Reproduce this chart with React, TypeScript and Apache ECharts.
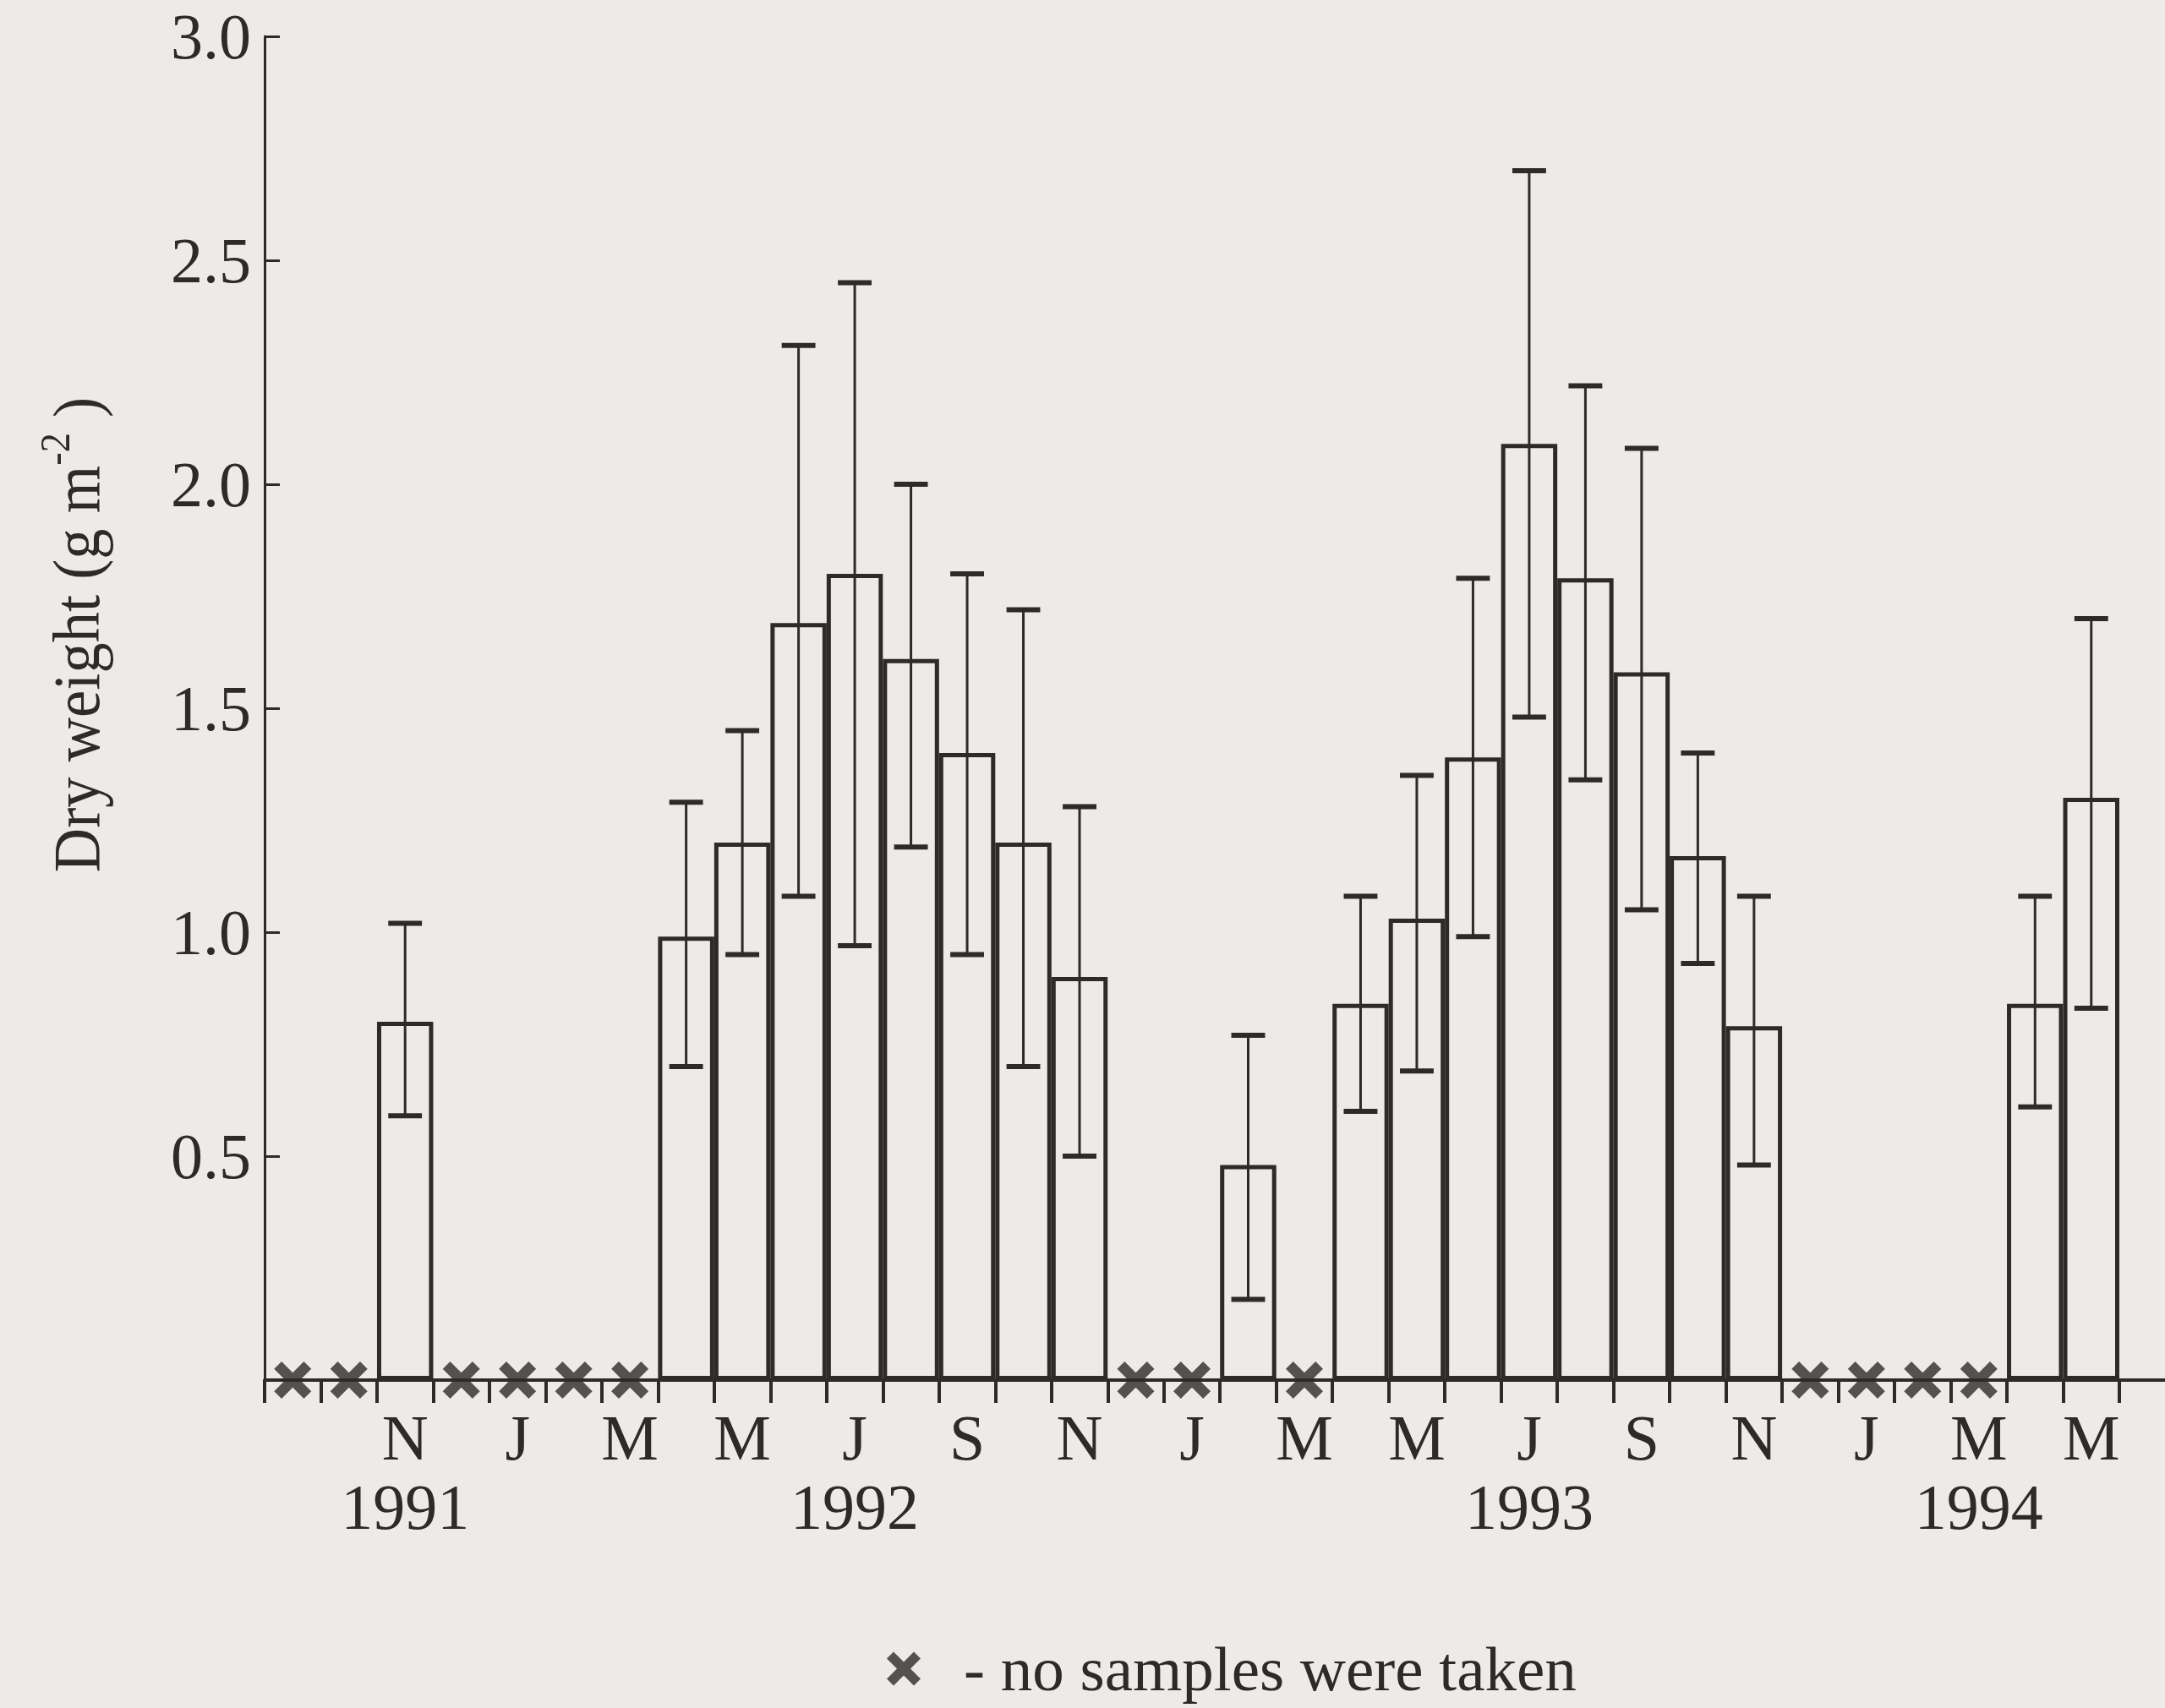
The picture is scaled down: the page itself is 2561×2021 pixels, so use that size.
import React, { useEffect, useRef } from 'react';
import * as echarts from 'echarts';

// Months from Sep 1991 to May 1994
const categories = [
  'Sep 1991', 'Oct 1991', 'Nov 1991', 'Dec 1991',
  'Jan 1992', 'Feb 1992', 'Mar 1992', 'Apr 1992', 'May 1992', 'Jun 1992',
  'Jul 1992', 'Aug 1992', 'Sep 1992', 'Oct 1992', 'Nov 1992', 'Dec 1992',
  'Jan 1993', 'Feb 1993', 'Mar 1993', 'Apr 1993', 'May 1993', 'Jun 1993',
  'Jul 1993', 'Aug 1993', 'Sep 1993', 'Oct 1993', 'Nov 1993', 'Dec 1993',
  'Jan 1994', 'Feb 1994', 'Mar 1994', 'Apr 1994', 'May 1994',
];

const monthLabels = [
  '', '', 'N', '', 'J', '', 'M', '', 'M', '', 'J', '', 'S', '', 'N', '',
  'J', '', 'M', '', 'M', '', 'J', '', 'S', '', 'N', '', 'J', '', 'M', '', 'M',
];

const yearLabels = [
  '', '', '1991', '', '', '', '', '', '', '', '1992', '', '', '', '', '',
  '', '', '', '', '', '', '1993', '', '', '', '', '', '', '', '1994', '', '',
];

// Mean dry weight (g m-2); null = no samples were taken
const dryWeight: (number | null)[] = [
  null, null, 0.80, null, null, null, null, 0.99, 1.20, 1.69, 1.80, 1.61, 1.40, 1.20, 0.90, null,
  null, 0.48, null, 0.84, 1.03, 1.39, 2.09, 1.79, 1.58, 1.17, 0.79, null, null, null, null, 0.84, 1.30,
];

const errorLow: (number | null)[] = [
  null, null, 0.59, null, null, null, null, 0.70, 0.95, 1.08, 0.97, 1.19, 0.95, 0.70, 0.50, null,
  null, 0.18, null, 0.60, 0.69, 0.99, 1.48, 1.34, 1.05, 0.93, 0.48, null, null, null, null, 0.61, 0.83,
];

const errorHigh: (number | null)[] = [
  null, null, 1.02, null, null, null, null, 1.29, 1.45, 2.31, 2.45, 2.00, 1.80, 1.72, 1.28, null,
  null, 0.77, null, 1.08, 1.35, 1.79, 2.70, 2.22, 2.08, 1.40, 1.08, null, null, null, null, 1.08, 1.70,
];

const Y_MIN = 0;
const Y_MAX = 3;
const Y_STEP = 0.5;

const FONT = "'Liberation Serif', 'Times New Roman', serif";
const INK = '#2e2a29';
const PAPER = '#ecebe7';
const CROSS =
  'path://M4,0 L10,6 L16,0 L20,4 L14,10 L20,16 L16,20 L10,14 L4,20 L0,16 L6,10 L0,4 Z';

const GRID_LEFT = 313;
const GRID_TOP = 43;
const GRID_RIGHT = 54;
const GRID_BOTTOM = 388;
const W = 2561;
const H = 2021;

export default function App() {
  const ref = useRef<HTMLDivElement>(null);

  useEffect(() => {
    const chart = echarts.init(ref.current!, null, { renderer: 'svg' });

    const barData = dryWeight.map((v) => (v === null ? '-' : v));
    const errData = dryWeight
      .map((v, i) => (v === null ? null : [i, errorLow[i], errorHigh[i]]))
      .filter((d) => d !== null);
    const crossData = dryWeight
      .map((v, i) => (v === null ? [i, 0] : null))
      .filter((d) => d !== null);

    chart.setOption({
      animation: false,
      backgroundColor: PAPER,
      grid: {
        left: GRID_LEFT,
        top: GRID_TOP,
        right: GRID_RIGHT,
        bottom: GRID_BOTTOM,
        containLabel: false,
      },
      legend: {
        left: 1044,
        top: 1932,
        itemWidth: 40,
        itemHeight: 40,
        selectedMode: false,
        textStyle: {
          fontFamily: FONT,
          fontSize: 75,
          color: INK,
          padding: [0, 0, 0, 46],
        },
        data: [{ name: '- no samples were taken', icon: CROSS, itemStyle: { color: INK } }],
      },
      xAxis: [
        {
          type: 'category',
          data: categories,
          position: 'bottom',
          boundaryGap: true,
          axisLine: { show: true, lineStyle: { color: INK, width: 4 } },
          axisTick: {
            show: true,
            interval: 0,
            length: 27,
            inside: false,
            lineStyle: { color: INK, width: 4 },
          },
          axisLabel: {
            interval: 0,
            margin: 30,
            fontFamily: FONT,
            fontSize: 76,
            color: INK,
            formatter: (_v: string, idx: number) => monthLabels[idx],
          },
          splitLine: { show: false },
          z: 5,
        },
        {
          type: 'category',
          data: categories,
          position: 'bottom',
          boundaryGap: true,
          axisLine: { show: false },
          axisTick: { show: false },
          axisLabel: {
            interval: 0,
            margin: 112,
            fontFamily: FONT,
            fontSize: 76,
            color: INK,
            formatter: (_v: string, idx: number) => yearLabels[idx],
          },
          splitLine: { show: false },
        },
      ],
      yAxis: {
        type: 'value',
        min: Y_MIN,
        max: Y_MAX,
        interval: Y_STEP,
        axisLine: { show: true, lineStyle: { color: INK, width: 3 } },
        axisTick: { show: true, inside: true, length: 18, lineStyle: { color: INK, width: 3 } },
        axisLabel: {
          margin: 16,
          fontFamily: FONT,
          fontSize: 76,
          color: INK,
          formatter: (v: number) => (v === 0 ? '' : v.toFixed(1)),
        },
        splitLine: { show: false },
      },
      series: [
        {
          type: 'bar',
          name: 'Dry weight',
          data: barData,
          xAxisIndex: 0,
          barCategoryGap: '0%',
          barGap: '0%',
          itemStyle: { color: 'rgba(0,0,0,0)', borderColor: INK, borderWidth: 5 },
          z: 2,
        },
        {
          type: 'custom',
          name: 'error',
          data: errData,
          xAxisIndex: 0,
          encode: { x: 0, y: [1, 2] },
          z: 3,
          renderItem: (params: any, api: any) => {
            const idx = api.value(0);
            const lo = api.coord([idx, api.value(1)]);
            const hi = api.coord([idx, api.value(2)]);
            const half = api.size([1, 0])[0] * 0.3;
            const stroke = { stroke: INK, lineWidth: 3 };
            const cap = { stroke: INK, lineWidth: 6 };
            return {
              type: 'group',
              children: [
                { type: 'line', shape: { x1: lo[0], y1: lo[1], x2: hi[0], y2: hi[1] }, style: stroke },
                { type: 'line', shape: { x1: hi[0] - half, y1: hi[1], x2: hi[0] + half, y2: hi[1] }, style: cap },
                { type: 'line', shape: { x1: lo[0] - half, y1: lo[1], x2: lo[0] + half, y2: lo[1] }, style: cap },
              ],
            };
          },
        },
        {
          type: 'scatter',
          name: '- no samples were taken',
          data: crossData,
          xAxisIndex: 0,
          symbol: CROSS,
          symbolSize: 44,
          clip: false,
          itemStyle: { color: INK },
          z: 6,
        },
      ],
    });

    const y0 = chart.convertToPixel({ yAxisIndex: 0 }, 0) as number;
    const xEnd = W - GRID_RIGHT;
    chart.setOption({
      graphic: [
        {
          type: 'line',
          shape: { x1: xEnd, y1: y0, x2: W, y2: y0 },
          style: { stroke: INK, lineWidth: 4 },
          z: 5,
        },
        {
          type: 'text',
          x: 85,
          y: 751,
          rotation: Math.PI / 2,
          scaleX: 0.93,
          style: {
            text: '{t|Dry weight (g m}{s|-2}{t| )}',
            align: 'center',
            verticalAlign: 'middle',
            rich: {
              t: { fontFamily: FONT, fontSize: 78, fill: INK, lineHeight: 90, verticalAlign: 'bottom' },
              s: { fontFamily: FONT, fontSize: 50, fill: INK, lineHeight: 90, verticalAlign: 'top' },
            },
          },
        },
      ],
    });

    return () => chart.dispose();
  }, []);

  return (
    <div
      ref={ref}
      style={{ position: 'fixed', left: 0, top: 0, width: W, height: H }}
    />
  );
}
